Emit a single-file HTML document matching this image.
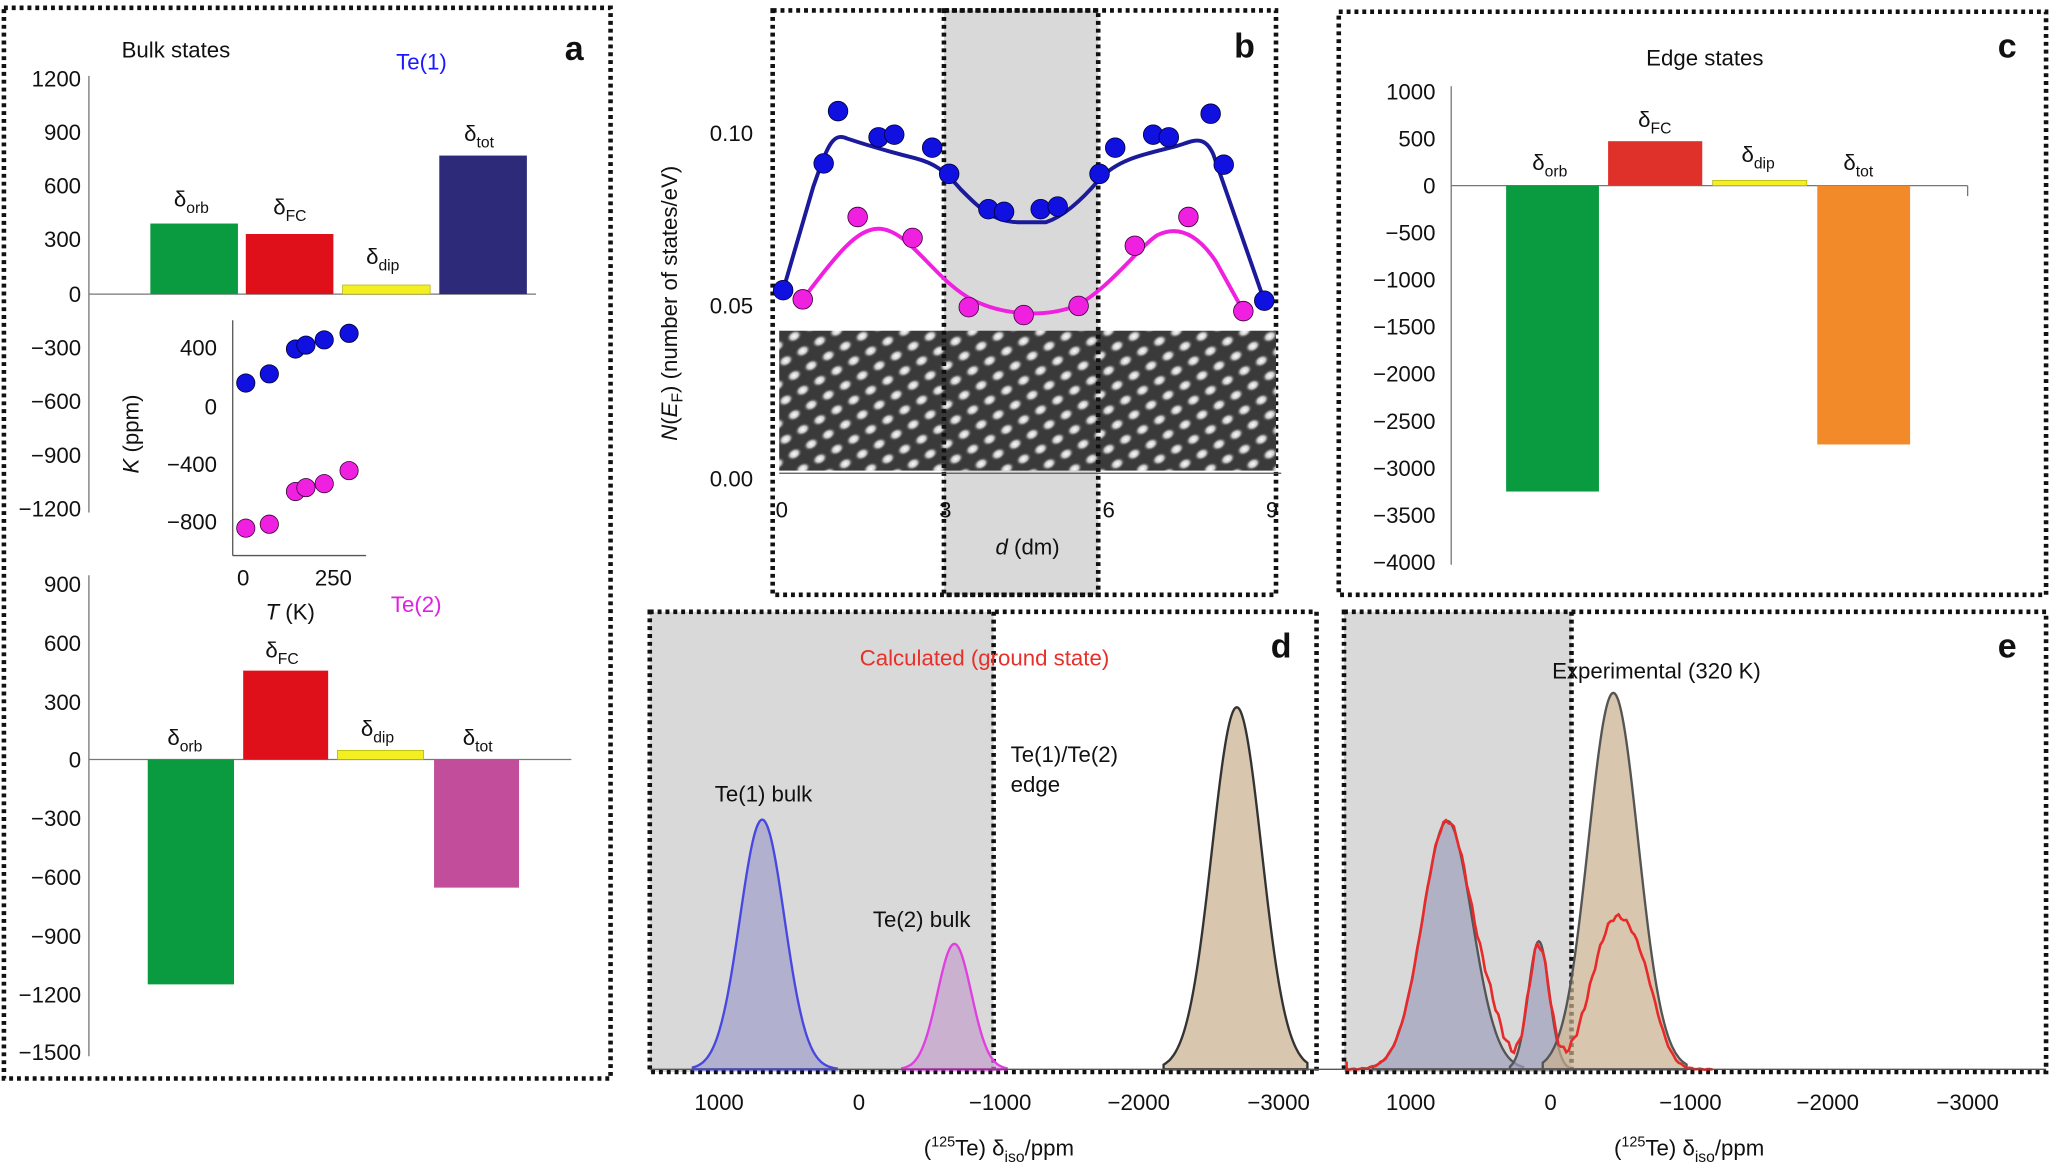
<!DOCTYPE html>
<html><head><meta charset="utf-8"><style>
html,body{margin:0;padding:0;background:#fff}
svg{display:block}
text{font-family:"Liberation Sans",Arial,sans-serif;fill:#111}
</style></head><body>
<svg id="s" width="2050" height="1170" viewBox="0 0 1568 895" preserveAspectRatio="none" xmlns="http://www.w3.org/2000/svg">
<defs>
<radialGradient id="blob"><stop offset="0" stop-color="#fff"/><stop offset="0.5" stop-color="#ccc"/><stop offset="1" stop-color="#444" stop-opacity="0"/></radialGradient>
<pattern id="stm" width="15" height="13" patternUnits="userSpaceOnUse" patternTransform="rotate(-30)">
<rect width="15" height="13" fill="#3a3a3a"/>
<ellipse cx="7.5" cy="6.5" rx="6.5" ry="4.5" fill="url(#blob)"/>
</pattern>
</defs>
<g id="g" font-size="17">
<!-- Panel a -->
<rect x="3" y="6" width="464" height="819" fill="none" stroke="#111" stroke-width="3.5" stroke-dasharray="3,3"/>
<text x="93" y="44">Bulk states</text>
<text x="303" y="53" style="fill:#1a1aff">Te(1)</text>
<text x="432" y="46" font-size="26" font-weight="bold">a</text>
<line x1="68" y1="58" x2="68" y2="392" stroke="#777"/>
<line x1="68" y1="225" x2="410" y2="225" stroke="#777"/>
<g text-anchor="end">
<text x="62" y="66">1200</text><text x="62" y="107">900</text><text x="62" y="148">600</text><text x="62" y="189">300</text><text x="62" y="231">0</text><text x="62" y="272">−300</text><text x="62" y="313">−600</text><text x="62" y="354">−900</text><text x="62" y="395">−1200</text>
</g>
<rect x="115" y="171" width="67" height="54" fill="#0a9a40"/>
<rect x="188" y="179" width="67" height="46" fill="#e0101a"/>
<rect x="262" y="218" width="67" height="7" fill="#f4ef20" stroke="#aa0" stroke-width="0.5"/>
<rect x="336" y="119" width="67" height="106" fill="#2e2a7a"/>
<text x="133" y="158">δ<tspan font-size="12" dy="5">orb</tspan></text>
<text x="209" y="164">δ<tspan font-size="12" dy="5">FC</tspan></text>
<text x="280" y="202">δ<tspan font-size="12" dy="5">dip</tspan></text>
<text x="355" y="108">δ<tspan font-size="12" dy="5">tot</tspan></text>
<rect x="135" y="238" width="170" height="200" fill="#fff"/>
<line x1="178" y1="245" x2="178" y2="425" stroke="#555"/>
<line x1="178" y1="425" x2="280" y2="425" stroke="#555"/>
<g text-anchor="end"><text x="166" y="272">400</text><text x="166" y="317">0</text><text x="166" y="361">−400</text><text x="166" y="405">−800</text></g>
<text x="186" y="448" text-anchor="middle">0</text><text x="255" y="448" text-anchor="middle">250</text>
<text x="222" y="474" text-anchor="middle"><tspan font-style="italic">T</tspan> (K)</text>
<text transform="translate(106,332) rotate(-90)" text-anchor="middle"><tspan font-style="italic">K</tspan> (ppm)</text>
<g fill="#1010e0" stroke="#003" stroke-width="0.6">
<circle cx="188" cy="293" r="7"/><circle cx="206" cy="286" r="7"/><circle cx="226" cy="267" r="7"/><circle cx="234" cy="264" r="7"/><circle cx="248" cy="260" r="7"/><circle cx="267" cy="255" r="7"/></g>
<g fill="#f020e0" stroke="#303" stroke-width="0.6">
<circle cx="188" cy="404" r="7"/><circle cx="206" cy="401" r="7"/><circle cx="226" cy="376" r="7"/><circle cx="234" cy="373" r="7"/><circle cx="248" cy="370" r="7"/><circle cx="267" cy="360" r="7"/></g>
<line x1="68" y1="440" x2="68" y2="808" stroke="#777"/>
<line x1="68" y1="581" x2="437" y2="581" stroke="#777"/>
<g text-anchor="end">
<text x="62" y="453">900</text><text x="62" y="498">600</text><text x="62" y="543">300</text><text x="62" y="587">0</text><text x="62" y="632">−300</text><text x="62" y="677">−600</text><text x="62" y="722">−900</text><text x="62" y="767">−1200</text><text x="62" y="811">−1500</text>
</g>
<text x="299" y="468" style="fill:#e020e0">Te(2)</text>
<rect x="113" y="581" width="66" height="172" fill="#0a9a40"/>
<rect x="186" y="513" width="65" height="68" fill="#e0101a"/>
<rect x="258" y="574" width="66" height="7" fill="#f4ef20" stroke="#aa0" stroke-width="0.5"/>
<rect x="332" y="581" width="65" height="98" fill="#c24d9a"/>
<text x="128" y="570">δ<tspan font-size="12" dy="5">orb</tspan></text>
<text x="203" y="503">δ<tspan font-size="12" dy="5">FC</tspan></text>
<text x="276" y="563">δ<tspan font-size="12" dy="5">dip</tspan></text>
<text x="354" y="570">δ<tspan font-size="12" dy="5">tot</tspan></text>

<!-- Panel b -->
<rect x="722" y="8" width="118" height="447" fill="#d9d9d9"/>
<rect x="591" y="8" width="385" height="447" fill="none" stroke="#111" stroke-width="3.5" stroke-dasharray="3,3"/>
<rect x="596" y="253" width="380" height="107" fill="url(#stm)"/>
<rect x="722" y="8" width="118" height="447" fill="none" stroke="#111" stroke-width="3.5" stroke-dasharray="3,3"/>
<line x1="596" y1="362" x2="980" y2="362" stroke="#555"/>
<g text-anchor="end"><text x="576" y="108">0.10</text><text x="576" y="240">0.05</text><text x="576" y="372">0.00</text></g>
<g text-anchor="middle"><text x="598" y="396">0</text><text x="723" y="396">3</text><text x="848" y="396">6</text><text x="973" y="396">9</text></g>
<text x="786" y="424" text-anchor="middle"><tspan font-style="italic">d</tspan> (dm)</text>
<text transform="translate(518,232) rotate(-90)" text-anchor="middle"><tspan font-style="italic">N</tspan>(<tspan font-style="italic">E</tspan><tspan font-size="12" dy="4">F</tspan><tspan dy="-4">) (number of states/eV)</tspan></text>
<text x="944" y="44" font-size="26" font-weight="bold">b</text>
<path d="M599,222 L622,143 C632,115 636,100 648,106 C660,110 680,116 700,121 C715,125 722,130 735,145 C750,160 760,170 780,170 L800,170 C815,165 830,150 841,137 C855,122 875,118 895,113 C910,110 920,100 928,118 L967,230" fill="none" stroke="#1a1a9a" stroke-width="3"/>
<path d="M614,229 C640,195 655,175 672,175 C695,175 715,215 745,230 C770,242 800,242 820,235 C845,225 870,190 885,180 C905,170 920,185 930,200 L951,238" fill="none" stroke="#f020e0" stroke-width="3"/>
<g fill="#1010e0" stroke="#003" stroke-width="0.6">
<circle cx="599" cy="222" r="7.5"/><circle cx="630" cy="125" r="7.5"/><circle cx="641" cy="85" r="7.5"/><circle cx="672" cy="105" r="7.5"/><circle cx="684" cy="103" r="7.5"/><circle cx="713" cy="113" r="7.5"/><circle cx="726" cy="133" r="7.5"/><circle cx="756" cy="160" r="7.5"/><circle cx="768" cy="162" r="7.5"/><circle cx="796" cy="160" r="7.5"/><circle cx="809" cy="158" r="7.5"/><circle cx="841" cy="133" r="7.5"/><circle cx="853" cy="113" r="7.5"/><circle cx="882" cy="103" r="7.5"/><circle cx="894" cy="105" r="7.5"/><circle cx="926" cy="87" r="7.5"/><circle cx="936" cy="126" r="7.5"/><circle cx="967" cy="230" r="7.5"/></g>
<g fill="#f020e0" stroke="#303" stroke-width="0.6">
<circle cx="614" cy="229" r="7.5"/><circle cx="656" cy="166" r="7.5"/><circle cx="698" cy="182" r="7.5"/><circle cx="741" cy="235" r="7.5"/><circle cx="783" cy="241" r="7.5"/><circle cx="825" cy="234" r="7.5"/><circle cx="868" cy="188" r="7.5"/><circle cx="909" cy="166" r="7.5"/><circle cx="951" cy="238" r="7.5"/></g>

<!-- Panel c -->
<rect x="1024" y="9" width="541" height="446" fill="none" stroke="#111" stroke-width="3.5" stroke-dasharray="3,3"/>
<text x="1304" y="50" text-anchor="middle">Edge states</text>
<text x="1528" y="44" font-size="26" font-weight="bold">c</text>
<line x1="1110" y1="66" x2="1110" y2="432" stroke="#777"/>
<line x1="1110" y1="142" x2="1505" y2="142" stroke="#777"/>
<line x1="1505" y1="142" x2="1505" y2="150" stroke="#777"/>
<g text-anchor="end">
<text x="1098" y="76">1000</text><text x="1098" y="112">500</text><text x="1098" y="148">0</text><text x="1098" y="184">−500</text><text x="1098" y="220">−1000</text><text x="1098" y="256">−1500</text><text x="1098" y="292">−2000</text><text x="1098" y="328">−2500</text><text x="1098" y="364">−3000</text><text x="1098" y="400">−3500</text><text x="1098" y="436">−4000</text>
</g>
<rect x="1152" y="142" width="71" height="234" fill="#0a9a40"/>
<rect x="1230" y="108" width="72" height="34" fill="#e0302a"/>
<rect x="1310" y="138" width="72" height="4" fill="#f4ef20" stroke="#aa0" stroke-width="0.5"/>
<rect x="1390" y="142" width="71" height="198" fill="#f28a2a"/>
<text x="1172" y="130">δ<tspan font-size="12" dy="5">orb</tspan></text>
<text x="1253" y="97">δ<tspan font-size="12" dy="5">FC</tspan></text>
<text x="1332" y="124">δ<tspan font-size="12" dy="5">dip</tspan></text>
<text x="1410" y="130">δ<tspan font-size="12" dy="5">tot</tspan></text>

<!-- Panel d -->
<rect x="497" y="468" width="263" height="352" fill="#d9d9d9"/>
<rect x="497" y="468" width="510" height="352" fill="none" stroke="#111" stroke-width="3.5" stroke-dasharray="3,3"/>
<line x1="760" y1="468" x2="760" y2="820" stroke="#111" stroke-width="3.5" stroke-dasharray="3,3"/>
<text x="753" y="509" text-anchor="middle" style="fill:#e8302a">Calculated (ground state)</text>
<text x="584" y="613" text-anchor="middle">Te(1) bulk</text>
<text x="705" y="709" text-anchor="middle">Te(2) bulk</text>
<text x="773" y="583">Te(1)/Te(2)</text>
<text x="773" y="606">edge</text>
<text x="972" y="503" font-size="26" font-weight="bold">d</text>
<g id="peaksd"></g>
<!-- Panel e -->
<rect x="1028" y="468" width="174" height="352" fill="#d9d9d9"/>
<rect x="1028" y="468" width="537" height="352" fill="none" stroke="#111" stroke-width="3.5" stroke-dasharray="3,3"/>
<line x1="1202" y1="468" x2="1202" y2="820" stroke="#111" stroke-width="3.5" stroke-dasharray="3,3"/>
<text x="1267" y="519" text-anchor="middle">Experimental (320 K)</text>
<text x="1528" y="503" font-size="26" font-weight="bold">e</text>
<g id="peakse"></g>
<line x1="497" y1="818" x2="1565" y2="818" stroke="#555"/>
<g text-anchor="middle">
<text x="550" y="849">1000</text><text x="657" y="849">0</text><text x="765" y="849">−1000</text><text x="871" y="849">−2000</text><text x="978" y="849">−3000</text>
<text x="1079" y="849">1000</text><text x="1186" y="849">0</text><text x="1293" y="849">−1000</text><text x="1398" y="849">−2000</text><text x="1505" y="849">−3000</text>
<text x="764" y="884">(<tspan font-size="11" dy="-7">125</tspan><tspan dy="7">Te) δ</tspan><tspan font-size="12" dy="5">iso</tspan><tspan dy="-5">/ppm</tspan></text>
<text x="1292" y="884">(<tspan font-size="11" dy="-7">125</tspan><tspan dy="7">Te) δ</tspan><tspan font-size="12" dy="5">iso</tspan><tspan dy="-5">/ppm</tspan></text>
</g>
</g>
</svg>
<script>
function gauss(c,top,s,x0,x1){var base=818,h=base-top,d="M"+x0+","+base;for(var x=x0;x<=x1;x+=1){d+=" L"+x+","+(base-h*Math.exp(-Math.pow((x-c)/s,2)/2)).toFixed(1);}return d+" L"+x1+","+base+"Z";}
function add(g,d,fill,stroke){var p=document.createElementNS("http://www.w3.org/2000/svg","path");p.setAttribute("d",d);p.setAttribute("fill",fill);p.setAttribute("stroke",stroke);p.setAttribute("stroke-width","1.8");document.getElementById(g).appendChild(p);}
add("peaksd",gauss(583,627,17,530,640),"rgba(150,150,200,0.6)","#4848e0");
add("peaksd",gauss(730,722,13,690,770),"rgba(190,150,200,0.6)","#e040e0");
add("peaksd",gauss(946,541,19,890,1000),"rgba(200,175,140,0.7)","#333");
add("peakse",gauss(1107,628,19,1050,1165),"rgba(160,160,190,0.7)","#555");
add("peakse",gauss(1177,720,8,1155,1200),"rgba(160,160,190,0.7)","#555");
add("peakse",gauss(1234,530,19,1180,1290),"rgba(200,175,140,0.7)","#555");
var d="M1030,812";for(var x=1030;x<=1310;x+=2){var y=818-190*Math.exp(-Math.pow((x-1107)/19,2)/2)-95*Math.exp(-Math.pow((x-1177)/8,2)/2)-110*Math.exp(-Math.pow((x-1234)/17,2)/2)-40*Math.exp(-Math.pow((x-1258)/12,2)/2)-20*Math.exp(-Math.pow((x-1140)/10,2)/2)-3*Math.sin(x*0.9)*Math.exp(-Math.pow((x-1170)/90,2));d+=" L"+x+","+y.toFixed(1);}
var p=document.createElementNS("http://www.w3.org/2000/svg","path");p.setAttribute("d",d);p.setAttribute("fill","none");p.setAttribute("stroke","#e82a2a");p.setAttribute("stroke-width","2");document.getElementById("peakse").appendChild(p);
</script>
</body></html>
